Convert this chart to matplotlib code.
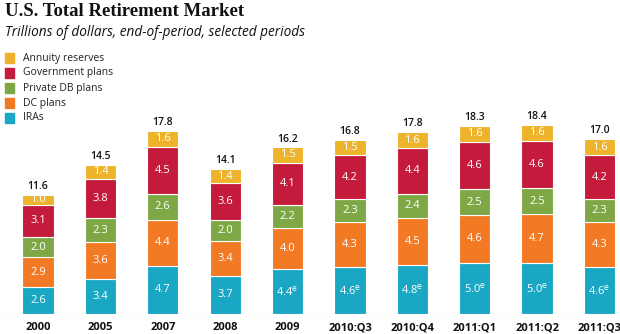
import matplotlib.pyplot as plt

periods = ['2000', '2005', '2007', '2008', '2009', '2010:Q3', '2010:Q4', '2011:Q1', '2011:Q2', '2011:Q3']
iras = [2.6, 3.4, 4.7, 3.7, 4.4, 4.6, 4.8, 5.0, 5.0, 4.6]
dc_plans = [2.9, 3.6, 4.4, 3.4, 4.0, 4.3, 4.5, 4.6, 4.7, 4.3]
private_db = [2.0, 2.3, 2.6, 2.0, 2.2, 2.3, 2.4, 2.5, 2.5, 2.3]
government = [3.1, 3.8, 4.5, 3.6, 4.1, 4.2, 4.4, 4.6, 4.6, 4.2]
annuity = [1.0, 1.4, 1.6, 1.4, 1.5, 1.5, 1.6, 1.6, 1.6, 1.6]
totals = [11.6, 14.5, 17.8, 14.1, 16.2, 16.8, 17.8, 18.3, 18.4, 17.0]
estimated = [False, False, False, False, True, True, True, True, True, True]

series = [
    ('IRAs', iras, '#1aa7c3'),
    ('DC plans', dc_plans, '#f37a25'),
    ('Private DB plans', private_db, '#7ea845'),
    ('Government plans', government, '#c41a3b'),
    ('Annuity reserves', annuity, '#edb42b'),
]

fig = plt.figure(figsize=(6.2, 3.34), dpi=100)
ax = fig.add_axes([0, 20 / 334, 1, 314 / 334])

x = list(range(len(periods)))
bottom = [0.0] * len(periods)
for name, vals, color in series:
    ax.bar(x, vals, width=0.5, bottom=bottom, color=color, edgecolor='white', linewidth=0.8)
    for i, v in enumerate(vals):
        txt = f'{v:.1f}'
        if name == 'IRAs' and estimated[i]:
            txt += r'$^{\mathrm{e}}$'
        ax.text(i, bottom[i] + v / 2, txt, ha='center', va='center', color='white',
                fontsize=8, family='Open Sans')
    bottom = [b + v for b, v in zip(bottom, vals)]

for i, t in enumerate(totals):
    ax.text(i, bottom[i] + 0.25, f'{t:.1f}', ha='center', va='bottom', color='#111111',
            fontsize=7.5, family='Open Sans', fontweight='semibold')

ax.set_xlim(-0.61, 9.33)
ax.set_ylim(0, 30.5)
ax.axis('off')
ax.axhline(0, color='#aaaaaa', linewidth=0.8)

for i, p in enumerate(periods):
    ax.text(i, -0.8, p, ha='center', va='top', fontsize=8, fontweight='bold',
            family='Open Sans', color='#111111')

fig.text(0.008, 0.99, 'U.S. Total Retirement Market', ha='left', va='top',
         fontsize=13.5, fontweight='bold', family='Liberation Serif', color='#111111')
fig.text(0.008, 0.925, 'Trillions of dollars, end-of-period, selected periods', ha='left', va='top',
         fontsize=9.8, style='italic', family='Open Sans', color='#111111')

for k, (name, vals, color) in enumerate(reversed(series)):
    y = 334 - (58 + 15 * k)
    fig.patches.append(plt.Rectangle((5 / 620, (y - 5) / 334), 9 / 620, 10 / 334,
                                     transform=fig.transFigure, color=color))
    fig.text(23 / 620, y / 334, name, ha='left', va='center', fontsize=7.5,
             family='Open Sans', color='#222222')

fig.savefig('out.png', dpi=100)
